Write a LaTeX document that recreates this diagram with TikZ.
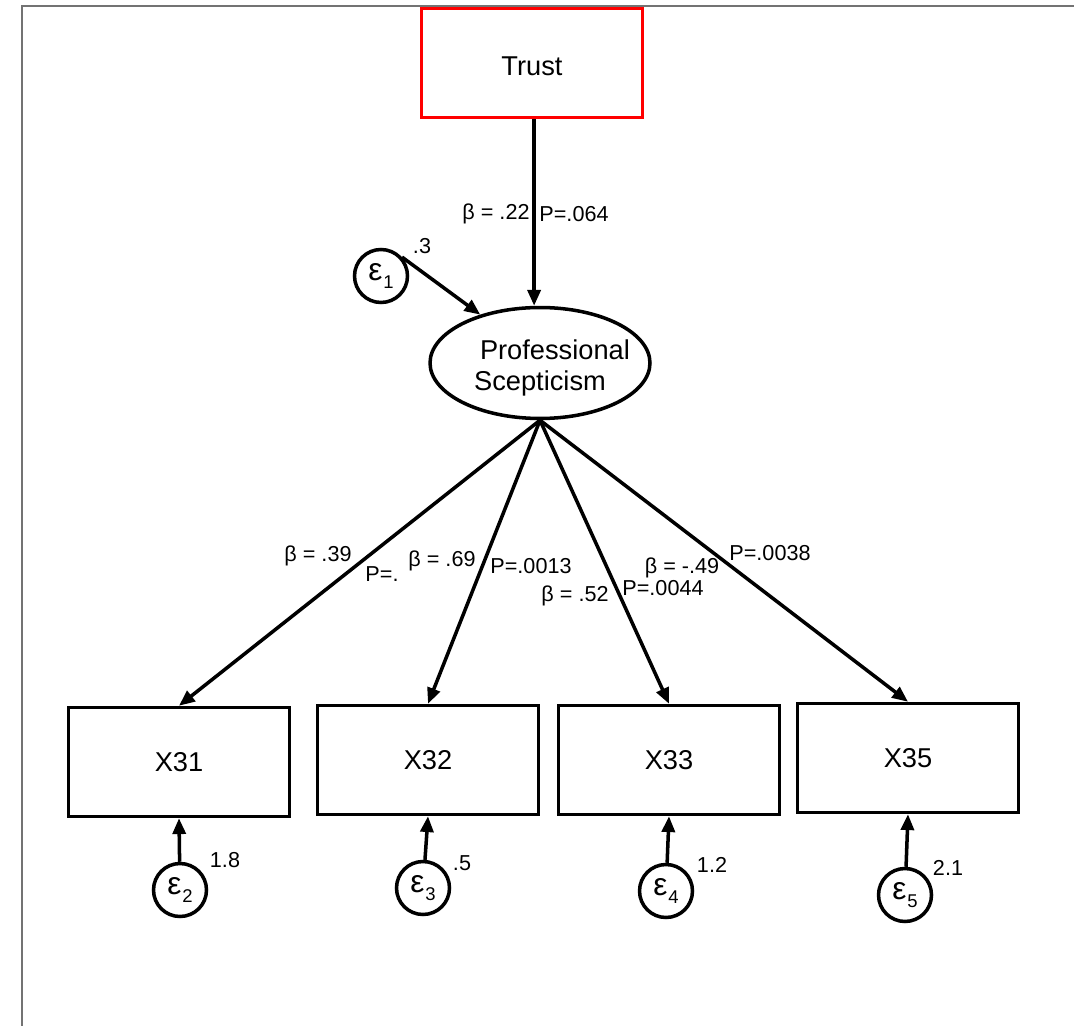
\documentclass[tikz,border=0pt]{standalone}
\usepackage{fontspec}
\setmainfont{Liberation Sans}
\usetikzlibrary{shapes.geometric,arrows.meta}
\newcommand{\errsym}[1]{{\fontsize{18}{18}\selectfont ε}\kern0.5pt\raisebox{-4.5pt}{\fontsize{10.5}{10.5}\selectfont #1}}
\begin{document}
\begin{tikzpicture}[x=0.02cm,y=-0.02cm,
  line width=2pt,
  arr/.style={-{Triangle[length=9pt,width=7.4pt]}},
  obsbox/.style={draw,minimum width=4.42cm,minimum height=2.18cm,font=\fontsize{15.5}{18}\selectfont},
  errc/.style={draw,circle,minimum size=1.06cm,inner sep=0pt},
  lab/.style={inner sep=0pt,font=\fontsize{12.3}{14}\selectfont},
  frameline/.style={draw=black!55,line width=0.9pt}]
\useasboundingbox (0,0) rectangle (1074,1026);
% outer frame
\draw[frameline] (22,1026) -- (22,6) -- (1074,6);

% exogenous and latent variables
\node[obsbox,draw=red,line width=2.2pt,text height=14.4pt,text depth=0pt] (trust) at (532,63) {Trust};
\node[draw,ellipse,minimum width=4.4cm,minimum height=2.22cm,inner sep=0pt,
      label={[align=center,font=\fontsize{15.5}{18}\selectfont,yshift=-2.8pt]center:\hspace*{17pt}Professional\\Scepticism}]
      (ps) at (540,363) {};
\node[errc] (e1) at (381,276) {\errsym{1}};

% indicators
\node[obsbox] (x31) at (179,762) {X31};
\node[obsbox] (x32) at (428,760) {X32};
\node[obsbox] (x33) at (669,760) {X33};
\node[obsbox] (x35) at (908,758) {X35};

% indicator errors
\node[errc] (e2) at (180,890) {\errsym{2}};
\node[errc] (e3) at (423,888) {\errsym{3}};
\node[errc] (e4) at (666,891) {\errsym{4}};
\node[errc] (e5) at (905,895) {\errsym{5}};

% paths
\draw[arr] ([xshift=1.2pt]trust.south) -- ([xshift=1.2pt]trust.south |- ps.north);
\draw[arr] (e1.42) -- (ps.141);
\draw[arr] (ps.south) -- (x31.north);
\draw[arr] (ps.south) -- (x32.north);
\draw[arr] (ps.south) -- (x33.north);
\draw[arr] (ps.south) -- (x35.north);
\draw[arr] (e2) -- (x31.south);
\draw[arr] (e3) -- (x32.south);
\draw[arr] (e4) -- (x33.south);
\draw[arr] (e5) -- (x35.south);

% coefficients
\node[lab] (b1) at (496,214) {β = .22};
\node[lab] (p1) at (574,214) {P=.064};
\node[lab] (v1) at (422,246) {.3};
\node[lab] (b31) at (318,556) {β = .39};
\node[lab] (p31) at (382,574) {P=.};
\node[lab] (b32) at (442,561) {β = .69};
\node[lab] (p32) at (531,566) {P=.0013};
\node[lab] (b33) at (575,596) {β = .52};
\node[lab] (p33) at (663,588) {P=.0044};
\node[lab] (b35) at (682,568) {β = -.49};
\node[lab] (p35) at (770,553) {P=.0038};
\node[lab] (v2) at (225,860) {1.8};
\node[lab] (v3) at (462,863) {.5};
\node[lab] (v4) at (712,865) {1.2};
\node[lab] (v5) at (948,868) {2.1};
\end{tikzpicture}
\end{document}
